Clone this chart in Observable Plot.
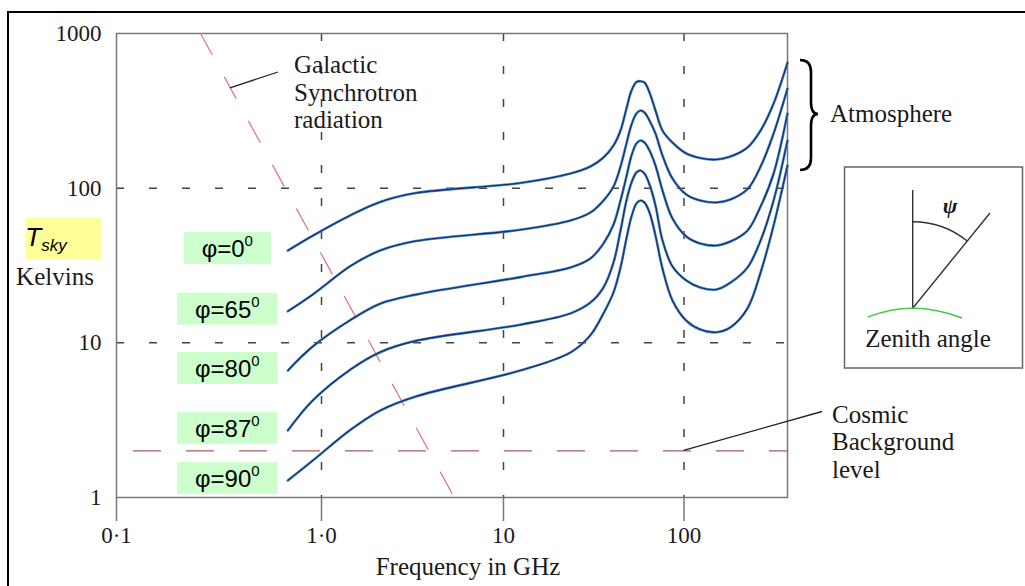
<!DOCTYPE html>
<html><head><meta charset="utf-8">
<script src="https://cdn.jsdelivr.net/npm/d3@7"></script>
<script src="https://cdn.jsdelivr.net/npm/@observablehq/plot@0.6"></script>
<style>
html,body{margin:0;padding:0;background:#fff;}
#chart{width:1025px;height:586px;overflow:hidden;position:relative;}
#chart svg{overflow:visible;}
</style></head><body><div id="chart"></div>
<script>
// ---- data ----
const seriesNames = ["φ=0", "φ=65", "φ=80", "φ=87", "φ=90"];
const freqLow = [0.685, 0.9, 1.45, 2.1, 3.3, 12.4];
const freqHigh = [23.5, 30.3, 35.8, 40.7, 44.5, 48.0, 51.2, 54.5, 57.4, 60.4, 64.4, 69.5, 76.0, 86.3, 103, 123, 151, 181, 225, 266, 314, 375];
const temp0 = [39.5, 49, 67, 81.5, 93, 108,
  124.4, 138.0, 157.8, 188.7, 235.9, 327.3, 428, 485.8, 491.6, 482, 415.5, 317.8, 235.9, 197.3, 167.5, 156.7, 153.2, 160.2, 183.2, 235.9, 352.7, 649];
const temp1 = [16.0, 20.4, 31.5, 39.5, 45.5, 53.8,
  61.8, 69.6, 83.2, 102.5, 138.0, 194.4, 257.9, 303.9, 317.8, 308.5, 273.8, 225.6, 162.7, 115.5, 91.0, 83.2, 80.8, 84.5, 98.5, 138.0, 225.6, 441];
const temp2 = [6.62, 9.4, 14.1, 17.9, 20.5, 26.6,
  30.7, 35.1, 43.9, 58.2, 83.2, 119.0, 162.7, 194.4, 203.3, 197.3, 175.2, 140.1, 96.6, 63.7, 48.7, 43.9, 42.6, 45.2, 53.2, 76.1, 124.4, 303.9];
const temp3 = [2.71, 4.2, 6.75, 8.7, 10.3, 13.1,
  15.5, 18.2, 22.8, 33.1, 53.2, 83.2, 108.8, 126.3, 130.1, 124.4, 105.6, 77.3, 45.9, 31.2, 25.3, 22.8, 22.1, 24.5, 30.7, 45.9, 83.2, 203.3];
const temp4 = [1.29, 1.72, 2.75, 3.65, 4.5, 6.62,
  8.66, 11.2, 15.5, 21.2, 30.7, 47.3, 65.6, 79.6, 83.2, 80.8, 69.6, 49.4, 30.2, 18.8, 13.9, 12.2, 11.7, 12.6, 16.7, 28.5, 57.4, 140.1];

const galacticFreq = [0.257, 1, 5.95];
const galacticTemp = [1000, 37.3, 0.8];
const cosmicFreq = [0.121, 375];
const cosmicTemp = [2, 2];

const xTicks = [0.1, 1, 10, 100];
const xTickLabels = ["0·1", "1·0", "10", "100"];
const yTicks = [1, 10, 100, 1000];
const yTickLabels = ["1", "10", "100", "1000"];
const xGrid = [1, 10, 100];
const yGrid = [10, 100];

// ---- build tables ----
const freqs = freqLow.concat(freqHigh);
const temps = [temp0, temp1, temp2, temp3, temp4];
const curves = [];
seriesNames.forEach((name, i) => freqs.forEach((f, j) => curves.push({series: name, f, t: temps[i][j]})));
const galactic = galacticFreq.map((f, i) => ({f, t: galacticTemp[i]}));
const cosmic = cosmicFreq.map((f, i) => ({f, t: cosmicTemp[i]}));
const xLab = new Map(xTicks.map((d, i) => [d, xTickLabels[i]]));
const yLab = new Map(yTicks.map((d, i) => [d, yTickLabels[i]]));

const SERIF = "'Liberation Serif', 'Times New Roman', serif";
const SANS = "'Liberation Sans', Arial, sans-serif";

const chart = Plot.plot({
  width: 1025, height: 586,
  marginLeft: 116, marginRight: 238, marginTop: 33, marginBottom: 89,
  style: {fontFamily: SERIF, fontSize: "23px", color: "#1a1a1a", background: "transparent", overflow: "visible"},
  x: {type: "log", domain: [0.1, 1, 10, 100, 375], range: [116, 321, 503, 683.5, 787]},
  y: {type: "log", domain: [1, 1000]},
  marks: [
    Plot.ruleY(yGrid, {stroke: "#444", strokeWidth: 1.5, strokeDasharray: "8,25"}),
    Plot.ruleX(xGrid, {stroke: "#444", strokeWidth: 1.5, strokeDasharray: "8,25"}),
    Plot.frame({stroke: "#777", strokeWidth: 1.5}),
    Plot.axisX(xTicks, {tickFormat: d => xLab.get(d), tickSize: 24, tickPadding: 5, stroke: "#777", strokeWidth: 1.5, fontSize: 23, label: null}),
    Plot.axisY(yTicks, {tickFormat: d => yLab.get(d), tickSize: 0, tickPadding: 15, fontSize: 23, label: null}),
    Plot.line(cosmic, {x: "f", y: "t", stroke: "#a85a5a", strokeWidth: 1.3, strokeDasharray: "27,26", clip: false}),
    Plot.line(galactic, {x: "f", y: "t", stroke: "#e07a86", strokeWidth: 1.3, strokeDasharray: "24,26", clip: false}),
    Plot.line(curves, {x: "f", y: "t", z: "series", curve: "catmull-rom", stroke: "#3f80cc", strokeWidth: 2.6}),
    Plot.line(curves, {x: "f", y: "t", z: "series", curve: "catmull-rom", stroke: "#1b2d58", strokeWidth: 1.1})
  ]
});
document.getElementById("chart").append(chart);

// ---- annotations ----
const sx = chart.scale("x"), sy = chart.scale("y");
const svg = d3.select(chart);
const g = svg.append("g");

// outer border
g.append("path").attr("d", "M8,590 L8,12 L1030,12").attr("fill", "none").attr("stroke", "#000").attr("stroke-width", 2);

function txt(x, y, s, opts = {}) {
  return g.append("text").attr("x", x).attr("y", y).text(s)
    .attr("font-family", opts.family || SERIF).attr("font-size", opts.size || 25)
    .attr("fill", opts.fill || "#1a1a1a").attr("text-anchor", opts.anchor || "start")
    .attr("font-style", opts.style || "normal");
}

// series labels with green boxes
seriesNames.forEach((name, i) => {
  const x0 = sx.apply(freqs[0]);
  const y0 = sy.apply(temps[i][0]);
  const t = g.append("text").attr("font-family", SANS).attr("font-size", 24).attr("fill", "#000").attr("text-anchor", "middle");
  t.append("tspan").text(name);
  t.append("tspan").text("0").attr("font-size", 15).attr("dy", -11);
  const cx = x0 - 60, cy = y0 - 2;
  t.attr("x", cx).attr("y", cy + 9);
  const bb = t.node().getBBox();
  g.insert("rect", () => t.node())
    .attr("x", bb.x - 18).attr("y", cy - 16).attr("width", bb.width + 36).attr("height", 32)
    .attr("fill", "#ccffcc");
});

// T_sky box
g.append("rect").attr("x", 26).attr("y", 218).attr("width", 75).attr("height", 41).attr("fill", "#ffff99");
const ts = g.append("text").attr("x", 46).attr("y", 246).attr("font-family", SANS).attr("font-style", "italic").attr("font-size", 26).attr("fill", "#000");
ts.append("tspan").text("T");
ts.append("tspan").text("sky").attr("font-size", 17).attr("dy", 5);
txt(55, 285, "Kelvins", {anchor: "middle"});

// x axis title
txt(468, 575, "Frequency in GHz", {anchor: "middle"});

// Galactic label + leader
const gx = 0.36;
const gy = Math.pow(10, 3 + (Math.log10(37.3) - 3) * (Math.log10(gx) - Math.log10(0.257)) / (0 - Math.log10(0.257)));
g.append("line").attr("x1", sx.apply(gx)).attr("y1", sy.apply(gy)).attr("x2", 278).attr("y2", 72).attr("stroke", "#222").attr("stroke-width", 1.3);
txt(294, 73, "Galactic");
txt(294, 100.5, "Synchrotron");
txt(294, 128, "radiation");

// Cosmic label + leader
g.append("line").attr("x1", sx.apply(100)).attr("y1", sy.apply(2)).attr("x2", 822).attr("y2", 411.5).attr("stroke", "#222").attr("stroke-width", 1.3);
txt(832, 423, "Cosmic");
txt(832, 450, "Background");
txt(832, 478, "level");

// Atmosphere brace
g.append("path").attr("d", "M800,60 Q811,60 811,72 L811,102 Q811,114 818,114 Q811,114 811,126 L811,158 Q811,170 800,170")
  .attr("fill", "none").attr("stroke", "#000").attr("stroke-width", 2.6);
txt(830, 122, "Atmosphere");

// Inset: zenith angle
g.append("rect").attr("x", 844.5).attr("y", 167).attr("width", 178).attr("height", 201).attr("fill", "#fff").attr("stroke", "#666").attr("stroke-width", 1.5);
const ox = 912.7, oy = 308.3, r = 86.6, ang = 39 * Math.PI / 180;
g.append("line").attr("x1", ox).attr("y1", oy).attr("x2", ox).attr("y2", 190).attr("stroke", "#333").attr("stroke-width", 1.4);
g.append("line").attr("x1", ox).attr("y1", oy).attr("x2", 990).attr("y2", 213).attr("stroke", "#333").attr("stroke-width", 1.4);
g.append("path").attr("d", `M${ox},${oy - r} A${r},${r} 0 0 1 ${ox + r * Math.sin(ang)},${oy - r * Math.cos(ang)}`)
  .attr("fill", "none").attr("stroke", "#333").attr("stroke-width", 1.4);
txt(950, 213, "ψ", {anchor: "middle", size: 22, style: "italic"}).attr("font-weight", "bold");
g.append("path").attr("d", "M868,317 Q913,299 962,318").attr("fill", "none").attr("stroke", "#44cc44").attr("stroke-width", 1.5);
txt(928, 347, "Zenith angle", {anchor: "middle"});
</script>
</body></html>
